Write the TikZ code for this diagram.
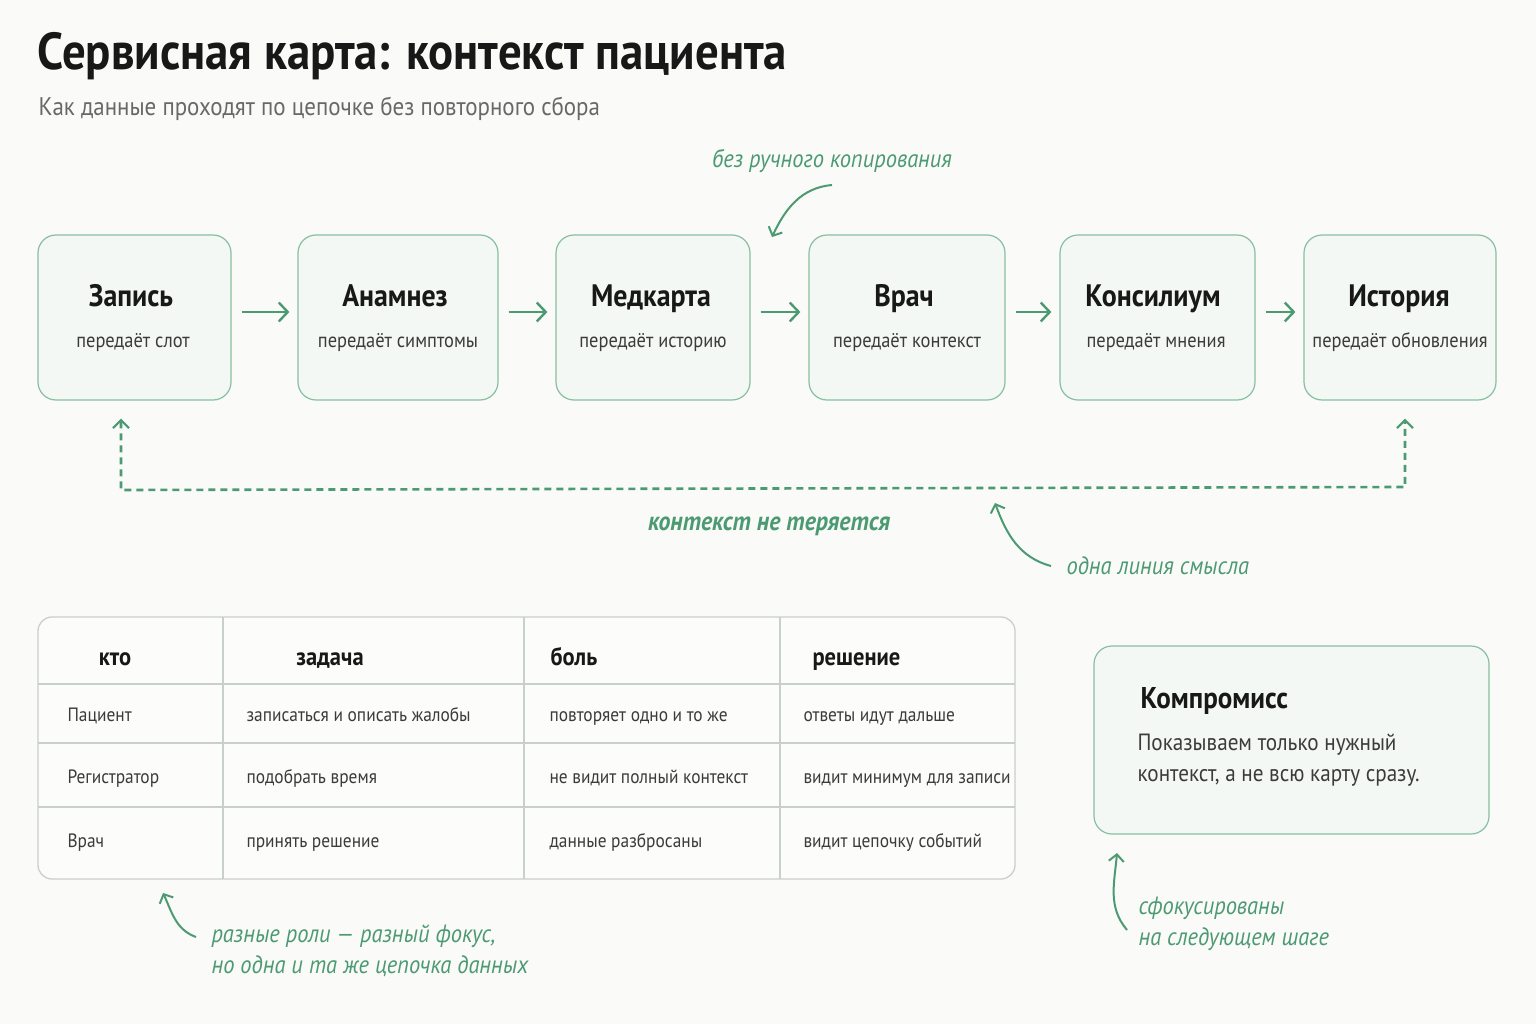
\documentclass[tikz,border=0pt]{standalone}
\usepackage{fontspec}
\setmainfont[FakeStretch=0.9]{PT Sans}
\usetikzlibrary{positioning}
\usetikzlibrary{arrows.meta}
\usetikzlibrary{math}
\definecolor{paper}{HTML}{FAFAF8}
\definecolor{accent}{HTML}{4C9A72}
\definecolor{boxline}{HTML}{88BFA1}
\definecolor{boxfill}{HTML}{F3F8F4}
\definecolor{gridline}{HTML}{C9D0CC}
\definecolor{ink}{HTML}{181818}
\definecolor{muted}{HTML}{686868}
\tikzset{stage/.style={draw=boxline, fill=boxfill, line width=1.2pt, rounded corners=18pt, minimum width=#1, minimum height=165pt, inner sep=0pt},stage/.default={195pt}}

\begin{document}
\begin{tikzpicture}[x=1pt,y=-1pt,
	stagetitle/.style={font=\fontsize{31}{33}\selectfont\bfseries, text=ink, text height=0.72em, text depth=0.2em},
	stagenote/.style={font=\fontsize{20.5}{22}\selectfont, text=ink!85, text height=0.72em, text depth=0.2em},
	flow/.style={draw=accent, line width=2.4pt, -{Straight Barb[length=9pt,width=19pt,line width=2.4pt]}},
	backline/.style={draw=accent, line width=2.6pt, dash pattern=on 7pt off 5pt},
	note/.style={font=\fontsize{25}{31}\selectfont\itshape, text=accent, align=left},
	notearrow/.style={draw=accent, line width=2pt, -{Straight Barb[length=7pt,width=15pt,line width=2pt]}},
	cellhead/.style={font=\fontsize{25}{27}\selectfont\bfseries, text=ink, text height=0.72em, text depth=0.2em},
	cell/.style={font=\fontsize{19.3}{22}\selectfont, text=ink!85, anchor=west, text height=0.72em, text depth=0.2em}]
	\tikzmath{\tl=38; \tr=1015; \tt=617; \tb=879;
	\ca=223; \cb=524; \cc=780;
	\ra=684; \rb=743; \rc=807;
	}
	\fill[paper] (0,0) rectangle (1536,1024);
	\useasboundingbox (0,0) rectangle (1536,1024);
	% heading
	\node[anchor=west, font=\fontsize{52}{55}\selectfont\bfseries, text=ink] (head) at (34,56) {Сервисная карта: контекст пациента};
	\node[anchor=west, font=\fontsize{25.5}{28}\selectfont, text=muted] (subhead) at (35,109) {Как данные проходят по цепочке без повторного сбора};
	% stages
	\node[stage=193pt] (s1) at (134.5,317.5) {};
	\node[stage=200pt] (s2) at (398,317.5) {};
	\node[stage=194pt] (s3) at (653,317.5) {};
	\node[stage=196pt] (s4) at (907,317.5) {};
	\node[stage=195pt] (s5) at (1157.5,317.5) {};
	\node[stage=192pt] (s6) at (1400,317.5) {};
	\node[stagetitle] (t1) at (131,304) {Запись};
	\node[stagenote] (n1) at (133,345) {передаёт слот};
	\node[stagetitle] (t2) at (395,304) {Анамнез};
	\node[stagenote] (n2) at (398,345) {передаёт симптомы};
	\node[stagetitle] (t3) at (651,304) {Медкарта};
	\node[stagenote] (n3) at (653,345) {передаёт историю};
	\node[stagetitle] (t4) at (904,304) {Врач};
	\node[stagenote] (n4) at (907,345) {передаёт контекст};
	\node[stagetitle] (t5) at (1153,304) {Консилиум};
	\node[stagenote] (n5) at (1156,345) {передаёт мнения};
	\node[stagetitle] (t6) at (1399,304) {История};
	\node[stagenote] (n6) at (1400,345) {передаёт обновления};
	\foreach \a/\b in {s1/s2,s2/s3,s3/s4,s4/s5,s5/s6}
		\draw[flow, shorten <=10pt, shorten >=8pt] ([yshift=5.5pt]\a.east) -- ([yshift=5.5pt]\b.west);
	% context line under the chain
	\coordinate (d1) at (121,490);
	\coordinate (d2) at (1405,487);
	\draw[backline, {Straight Barb[length=8pt,width=16pt,line width=2.2pt]}-{Straight Barb[length=8pt,width=16pt,line width=2.2pt]}, shorten <=18pt, shorten >=18pt] (s1.south -| d1) -- (d1) -- (d2) -- (s6.south -| d2);
	\node[font=\fontsize{26.5}{29}\selectfont\bfseries\itshape, text=accent] (keep) at (769,526) {контекст не теряется};
	% notes
	\node[note] (copy) at (832,161) {без ручного копирования};
	\coordinate (copyend) at (772,237);
	\draw[notearrow] ([yshift=-24pt]copy.center) to[out=185,in=65] (copyend);
	\node[note, anchor=west] (line) at (1063,566) {одна линия смысла};
	\coordinate (lineend) at (995,503);
	\draw[notearrow] ([xshift=-12pt]line.west) to[out=165,in=-70] (lineend);
	% roles table
	\draw[gridline, line width=1.3pt, fill=paper!60!white, rounded corners=14pt] (\tl,\tt) rectangle (\tr,\tb);
	\draw[gridline, line width=1.3pt] (\tl,\ra) -- (\tr,\ra) (\tl,\rb) -- (\tr,\rb) (\tl,\rc) -- (\tr,\rc);
	\draw[gridline, line width=1.3pt] (\ca,\tt) -- (\ca,\tb) (\cb,\tt) -- (\cb,\tb) (\cc,\tt) -- (\cc,\tb);
	\node[cellhead] (h1) at (115,663) {кто};
	\node[cellhead] (h2) at (330,663) {задача};
	\node[cellhead, anchor=west] (h3) at (547,663) {боль};
	\node[cellhead, anchor=west] (h4) at (809,663) {решение};
	\node[cell] (c11) at (64,719) {Пациент};
	\node[cell] (c12) at (243,719) {записаться и описать жалобы};
	\node[cell] (c13) at (546,719) {повторяет одно и то же};
	\node[cell] (c14) at (800,719) {ответы идут дальше};
	\node[cell] (c21) at (64,781) {Регистратор};
	\node[cell] (c22) at (243,781) {подобрать время};
	\node[cell] (c23) at (546,781) {не видит полный контекст};
	\node[cell] (c24) at (800,781) {видит минимум для записи};
	\node[cell] (c31) at (64,845) {Врач};
	\node[cell] (c32) at (243,845) {принять решение};
	\node[cell] (c33) at (546,845) {данные разбросаны};
	\node[cell] (c34) at (800,845) {видит цепочку событий};
	\node[note, anchor=west] (roles) at (208,951) {разные роли — разный фокус,\\но одна и та же цепочка данных};
	\coordinate (rolesend) at (163,893);
	\draw[notearrow] ([xshift=-12pt,yshift=14pt]roles.west) to[out=160,in=-65] (rolesend);
	% trade-off card
	\node[stage=395pt, minimum height=188pt] (deal) at (1291.5,740) {};
	\node[anchor=west, font=\fontsize{30}{33}\selectfont\bfseries, text=ink] (dealhead) at (1137,701) {Компромисс};
	\node[anchor=north west, align=left, font=\fontsize{23.5}{31}\selectfont, text=ink!85] (dealtext) at (1134,730) {Показываем только нужный\\контекст, а не всю карту сразу.};
	\node[note, anchor=west] (focus) at (1135,924) {сфокусированы\\на следующем шаге};
	\coordinate (focusend) at (1117,853);
	\draw[notearrow] ([xshift=-8pt,yshift=-6pt]focus.west) to[out=130,in=-95] (focusend);
\end{tikzpicture}
\end{document}
